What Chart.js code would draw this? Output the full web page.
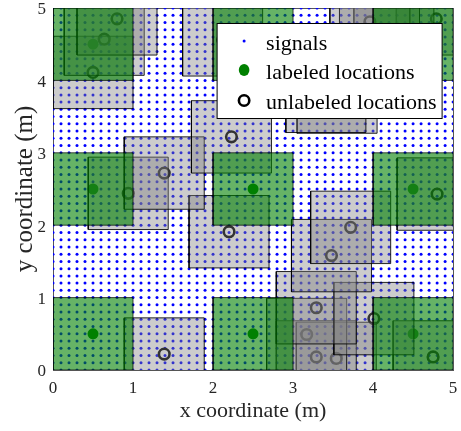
<!DOCTYPE html>
<html><head><meta charset="utf-8">
<script src="https://cdn.jsdelivr.net/npm/chart.js"></script>
<style>html,body{margin:0;padding:0;background:#fff;}#wrap{width:461px;height:431px;}</style>
</head><body><div id="wrap"><canvas id="c" width="461" height="431"></canvas></div>
<script>
// ---- data ----
const signalGridX = [0,0.1,0.2,0.3,0.4,0.5,0.6,0.7,0.8,0.9,1,1.1,1.2,1.3,1.4,1.5,1.6,1.7,1.8,1.9,2,2.1,2.2,2.3,2.4,2.5,2.6,2.7,2.8,2.9,3,3.1,3.2,3.3,3.4,3.5,3.6,3.7,3.8,3.9,4,4.1,4.2,4.3,4.4,4.5,4.6,4.7,4.8,4.9,5];
const signalGridY = [0,0.1,0.2,0.3,0.4,0.5,0.6,0.7,0.8,0.9,1,1.1,1.2,1.3,1.4,1.5,1.6,1.7,1.8,1.9,2,2.1,2.2,2.3,2.4,2.5,2.6,2.7,2.8,2.9,3,3.1,3.2,3.3,3.4,3.5,3.6,3.7,3.8,3.9,4,4.1,4.2,4.3,4.4,4.5,4.6,4.7,4.8,4.9,5];
const labeledX = [0.5,2.5,4.5,0.5,2.5,4.5,0.5,2.5,4.5];
const labeledY = [4.5,4.5,4.5,2.5,2.5,2.5,0.5,0.5,0.5];
const unlabeledX = [0.80,0.64,0.50,2.12,3.96,4.08,4.26,4.79,3.41,3.55,2.23,1.39,0.94,4.80,2.20,3.72,3.48,3.29,4.01,3.17,1.39,3.29,3.54,4.75];
const unlabeledY = [4.85,4.57,4.11,4.56,4.81,4.60,4.55,4.85,3.78,3.77,3.22,2.72,2.44,2.43,1.91,1.97,1.58,0.86,0.71,0.49,0.22,0.18,0.16,0.18];
const xTicks = [0,1,2,3,4,5];
const yTicks = [0,1,2,3,4,5];
const legendLabels = ['signals','labeled locations','unlabeled locations'];
const xTitle = 'x coordinate (m)';
const yTitle = 'y coordinate (m)';

// ---- styles ----
const CELL = 1; // side of the square region around each location (m)
const SERIF = '"Liberation Serif", "Times New Roman", serif';
const axisColor = '#262626';

function squareData(cx, cy){
  const h = CELL/2;
  return [{x:cx-h,y:cy-h},{x:cx+h,y:cy-h},{x:cx+h,y:cy+h},{x:cx-h,y:cy+h},{x:cx-h,y:cy-h}];
}

const signals = [];
signalGridY.forEach(y => signalGridX.forEach(x => signals.push({x, y})));
const labeled = labeledX.map((x,i)=>({x, y: labeledY[i]}));
const unlabeled = unlabeledX.map((x,i)=>({x, y: unlabeledY[i]}));

const datasets = [];
labeled.forEach(p => datasets.push({
  type:'line', data: squareData(p.x, p.y), showLine:true, fill:'shape',
  backgroundColor:'rgba(0,128,0,0.6)', borderColor:'rgba(0,0,0,0.7)', borderWidth:1,
  pointRadius:0, tension:0, order:0, clip:0
}));
unlabeled.forEach(p => datasets.push({
  type:'line', data: squareData(p.x, p.y), showLine:true, fill:'shape',
  backgroundColor:'rgba(128,128,128,0.4)', borderColor:'rgba(0,0,0,0.85)', borderWidth:1,
  pointRadius:0, tension:0, order:1, clip:0
}));
datasets.push({type:'scatter', label: legendLabels[2], data: unlabeled, pointStyle:'circle', pointRadius:5.3, borderWidth:2.6, borderColor:'#000', backgroundColor:'rgba(0,0,0,0)', order:2});
datasets.push({type:'scatter', label: legendLabels[1], data: labeled, pointStyle:'circle', pointRadius:5.5, borderWidth:0, backgroundColor:'rgb(0,128,0)', order:3});
datasets.push({type:'scatter', label: legendLabels[0], data: signals, pointStyle:'circle', pointRadius:1.5, borderWidth:0, backgroundColor:'rgb(0,0,255)', order:4});

const boxLegend = {
  id:'boxLegend',
  afterDraw(chart){
    const ctx = chart.ctx, a = chart.chartArea;
    const right = a.right - 11, top = a.top + 15.5, w = 225, h = 95;
    const left = right - w;
    ctx.save();
    ctx.fillStyle = '#fff';
    ctx.fillRect(left, top, w, h);
    ctx.strokeStyle = '#000'; ctx.lineWidth = 1;
    ctx.strokeRect(left, top, w, h);
    const mx = left + 27, tx = left + 49;
    const rows = [top + 26.5, top + 55.5, top + 85];
    ctx.font = '22px ' + SERIF;
    ctx.fillStyle = '#000';
    ctx.textBaseline = 'alphabetic';
    ctx.textAlign = 'left';
    legendLabels.forEach((t,i)=>ctx.fillText(t, tx, rows[i]));
    ctx.fillStyle = 'rgb(0,0,255)';
    ctx.beginPath(); ctx.arc(mx, rows[0]-9, 1.5, 0, Math.PI*2); ctx.fill();
    ctx.fillStyle = 'rgb(0,128,0)';
    ctx.beginPath(); ctx.ellipse(mx, rows[1]-9, 5.3, 6, 0, 0, Math.PI*2); ctx.fill();
    ctx.strokeStyle = '#000'; ctx.lineWidth = 2.6;
    ctx.beginPath(); ctx.arc(mx, rows[2]-8, 5.2, 0, Math.PI*2); ctx.stroke();
    ctx.restore();
  }
};

function noPadX(s, h){ s.height = h; s.paddingLeft = 0; s.paddingRight = 0; }
function noPadY(s, w){ s.width = w; s.paddingTop = 0; s.paddingBottom = 0; }

new Chart(document.getElementById('c'), {
  type:'scatter',
  data:{datasets},
  options:{
    responsive:false, animation:false,
    layout:{padding:{top:8,right:7,left:0,bottom:0}},
    plugins:{legend:{display:false}, tooltip:{enabled:false}},
    scales:{
      x:{type:'linear', position:'bottom', min:0, max:5,
        afterBuildTicks:s=>{s.ticks = xTicks.map(v=>({value:v}));},
        afterFit:s=>noPadX(s, 61),
        grid:{display:false, drawTicks:false},
        border:{display:true, color:'#555', width:1},
        ticks:{padding:8, color:axisColor, font:{family:SERIF, size:17}, maxRotation:0},
        title:{display:true, text:xTitle, color:axisColor, font:{family:SERIF, size:22}, padding:{top:0,bottom:7}}
      },
      y:{type:'linear', position:'left', min:0, max:5,
        afterBuildTicks:s=>{s.ticks = yTicks.map(v=>({value:v}));},
        afterFit:s=>noPadY(s, 53),
        grid:{display:false, drawTicks:false},
        border:{display:true, color:'#555', width:1},
        ticks:{padding:7, labelOffset:2, color:axisColor, font:{family:SERIF, size:17}},
        title:{display:true, text:yTitle, color:axisColor, font:{family:SERIF, size:25}, padding:{top:10,bottom:0}}
      },
      x2:{type:'linear', position:'top', min:0, max:5, afterFit:s=>noPadX(s, 0),
        grid:{display:false, drawTicks:false}, ticks:{display:false}, border:{display:true, color:'#555', width:1}},
      y2:{type:'linear', position:'right', min:0, max:5, afterFit:s=>noPadY(s, 0),
        grid:{display:false, drawTicks:false}, ticks:{display:false}, border:{display:true, color:'#555', width:1}}
    }
  },
  plugins:[boxLegend]
});
</script>
</body></html>
